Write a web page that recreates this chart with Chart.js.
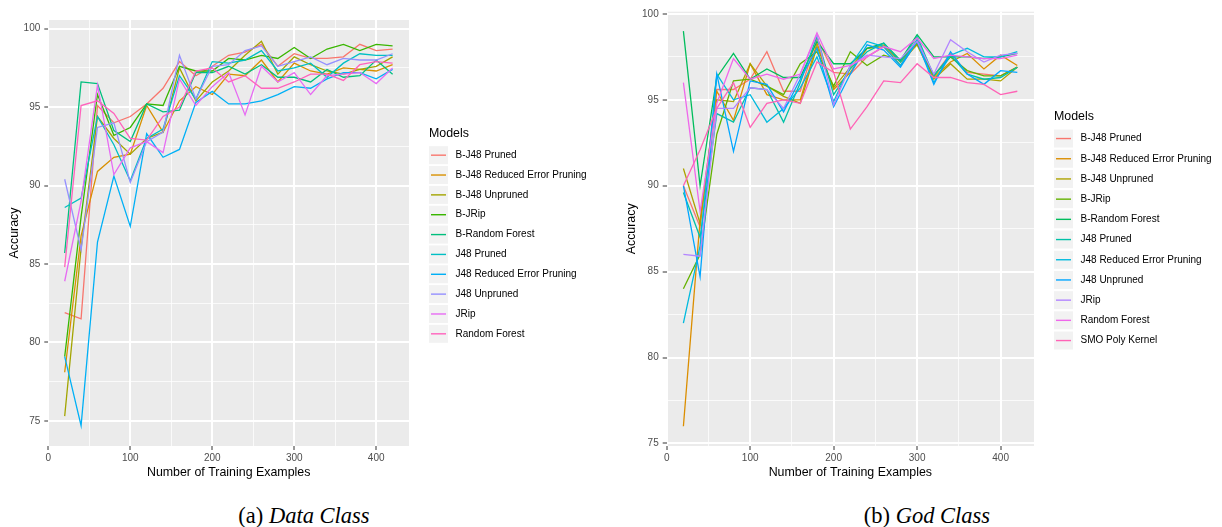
<!DOCTYPE html>
<html>
<head>
<meta charset="utf-8">
<script src="https://cdn.jsdelivr.net/npm/chart.js@4.4.1/dist/chart.umd.min.js"></script>
<style>
  html, body { margin: 0; padding: 0; background: #fff; width: 1222px; height: 527px; overflow: hidden; }
  .panel { position: absolute; top: 0; }
  canvas { display: block; }
  .caption {
    position: absolute;
    font-family: "Liberation Serif", "Times New Roman", serif;
    font-size: 22.5px;
    line-height: 22.5px;
    white-space: nowrap;
    color: #000;
    transform: translateX(-50%);
  }
</style>
</head>
<body>
<div class="panel" style="left:0"><canvas id="dataClass" width="611" height="490"></canvas></div>
<div class="panel" style="left:611px"><canvas id="godClass" width="611" height="490"></canvas></div>
<div class="caption" style="left:304px;top:504.5px">(a) <i>Data Class</i></div>
<div class="caption" style="left:927px;top:504.5px">(b) <i>God Class</i></div>

<script>
// Training set sizes shared by both experiments
const trainingExamples = [20, 40, 60, 80, 100, 120, 140, 160, 180, 200, 220, 240, 260, 280, 300, 320, 340, 360, 380, 400, 420];

// Axis tick labels
const accuracyTicks = [75, 80, 85, 90, 95, 100];
const exampleTicks = [0, 100, 200, 300, 400];

const legendTitle = "Models";
const xAxisTitle = "Number of Training Examples";
const yAxisTitle = "Accuracy";

// ---- Data Class accuracy per model ----
const dataClassModels = ["B-J48 Pruned", "B-J48 Reduced Error Pruning", "B-J48 Unpruned", "B-JRip", "B-Random Forest",
  "J48 Pruned", "J48 Reduced Error Pruning", "J48 Unpruned", "JRip", "Random Forest"];

const dcBJ48Pruned    = [81.9, 81.5, 95.1, 94.0, 94.4, 95.2, 96.2, 97.9, 97.0, 97.6, 98.3, 98.5, 99.0, 97.6, 98.4, 98.1, 98.1, 98.2, 99.0, 98.6, 98.7];
const dcBJ48REP       = [78.1, 86.8, 90.9, 91.8, 92.0, 95.1, 93.4, 95.4, 96.3, 95.8, 97.1, 97.0, 98.0, 96.6, 97.8, 97.3, 97.1, 97.5, 97.4, 97.3, 97.7];
const dcBJ48Unpruned  = [75.3, 86.0, 94.4, 93.0, 92.0, 93.0, 93.4, 97.5, 95.4, 96.6, 97.3, 98.3, 99.2, 97.1, 98.2, 97.7, 97.3, 97.1, 97.4, 97.6, 98.2];
const dcBJRip         = [79.1, 88.0, 95.8, 93.2, 93.7, 95.2, 95.1, 97.6, 97.3, 97.3, 98.1, 98.0, 98.3, 98.1, 98.8, 98.1, 98.7, 99.0, 98.6, 99.0, 98.9];
const dcBRandomForest = [85.7, 96.6, 96.5, 93.5, 92.8, 95.2, 94.7, 94.8, 97.2, 97.2, 97.6, 97.1, 97.7, 96.9, 96.9, 96.6, 97.4, 96.9, 97.0, 98.0, 97.1];
const dcJ48Pruned     = [88.6, 89.2, 94.4, 92.6, 90.3, 93.0, 93.6, 97.0, 95.5, 97.9, 97.8, 98.0, 98.6, 97.3, 97.5, 97.8, 96.9, 97.8, 98.4, 98.3, 98.3];
const dcJ48REP        = [79.1, 74.7, 86.4, 90.6, 87.4, 93.3, 91.8, 92.3, 95.3, 96.0, 95.2, 95.2, 95.4, 95.8, 96.3, 96.2, 96.8, 97.2, 97.2, 96.8, 97.4];
const dcJ48Unpruned   = [90.4, 85.9, 93.7, 94.0, 90.2, 92.8, 93.4, 98.3, 95.5, 97.6, 97.7, 98.6, 98.9, 97.6, 97.9, 98.2, 97.7, 98.1, 98.0, 98.0, 98.4];
const dcJRip          = [83.9, 89.0, 96.4, 90.7, 92.4, 92.8, 92.1, 96.8, 95.1, 96.3, 97.2, 94.5, 97.6, 96.6, 97.2, 95.8, 97.0, 97.1, 97.2, 96.5, 97.5];
const dcRandomForest  = [84.8, 95.1, 95.4, 94.6, 93.0, 92.9, 94.4, 95.0, 97.3, 97.5, 96.6, 97.0, 96.2, 96.2, 96.6, 97.1, 97.1, 96.7, 97.7, 97.9, 97.8];

// ---- God Class accuracy per model ----
const godClassModels = ["B-J48 Pruned", "B-J48 Reduced Error Pruning", "B-J48 Unpruned", "B-JRip", "B-Random Forest",
  "J48 Pruned", "J48 Reduced Error Pruning", "J48 Unpruned", "JRip", "Random Forest", "SMO Poly Kernel"];

const gcBJ48Pruned    = [90.0, 87.6, 95.6, 95.6, 96.2, 97.8, 95.5, 95.5, 98.6, 96.6, 96.5, 97.5, 98.1, 97.2, 98.5, 96.4, 97.7, 96.6, 96.5, 96.4, 96.9];
const gcBJ48REP       = [76.0, 88.0, 95.5, 93.8, 97.1, 95.3, 95.0, 95.0, 98.3, 95.6, 96.6, 98.0, 98.1, 97.0, 98.3, 96.3, 97.2, 97.7, 96.8, 97.6, 97.0];
const gcBJ48Unpruned  = [91.0, 87.8, 95.0, 94.9, 97.1, 95.8, 95.2, 94.8, 98.1, 95.7, 96.9, 98.0, 98.2, 97.2, 98.2, 96.2, 97.1, 96.2, 96.2, 96.1, 96.9];
const gcBJRip         = [84.0, 86.0, 93.0, 96.1, 96.2, 95.8, 95.3, 97.1, 97.8, 95.8, 97.8, 97.0, 97.6, 97.3, 98.3, 96.4, 97.5, 96.7, 96.4, 96.4, 96.9];
const gcBRandomForest = [99.0, 90.0, 96.3, 97.7, 96.2, 96.8, 96.3, 96.3, 98.4, 97.1, 97.1, 98.0, 98.3, 97.3, 98.8, 97.5, 97.5, 97.5, 97.4, 97.5, 97.7];
const gcJ48Pruned     = [89.6, 87.0, 94.2, 93.7, 95.7, 95.6, 93.7, 96.0, 98.7, 95.3, 96.8, 97.8, 98.3, 97.2, 98.7, 96.4, 97.6, 96.5, 96.2, 96.3, 96.9];
const gcJ48REP        = [82.0, 86.5, 96.5, 95.0, 95.3, 93.7, 94.5, 95.7, 97.5, 94.9, 97.0, 98.4, 98.1, 97.0, 98.5, 96.0, 97.6, 98.0, 97.5, 97.5, 97.8];
const gcJ48Unpruned   = [90.0, 84.7, 96.5, 92.0, 96.1, 95.9, 94.3, 96.2, 98.0, 94.6, 96.5, 98.2, 97.9, 96.9, 98.4, 95.9, 97.8, 96.5, 95.9, 96.7, 96.6];
const gcJRip          = [86.0, 85.9, 94.5, 94.5, 95.7, 95.6, 94.5, 96.5, 98.8, 94.7, 97.0, 97.6, 97.5, 97.4, 98.4, 96.5, 98.5, 97.8, 97.2, 97.6, 97.7];
const gcRandomForest  = [96.0, 88.5, 94.8, 97.4, 96.2, 96.5, 96.2, 96.5, 98.9, 96.8, 97.0, 97.5, 98.1, 97.8, 98.6, 97.4, 97.6, 97.5, 97.4, 97.4, 97.6];
const gcSMOPolyKernel = [90.0, 92.1, 94.5, 96.0, 93.4, 94.8, 95.0, 94.8, 97.2, 96.6, 93.3, 94.6, 96.1, 96.0, 97.1, 96.3, 96.3, 96.0, 95.9, 95.3, 95.5];

// Hue palettes (10 and 11 evenly spaced hues)
const hues10 = ["#F8766D", "#D89000", "#A3A500", "#39B600", "#00BF7D", "#00BFC4", "#00B0F6", "#9590FF", "#E76BF3", "#FF62BC"];
const hues11 = ["#F8766D", "#DB8E00", "#AEA200", "#64B200", "#00BD5C", "#00C1A7", "#00BADE", "#00A6FF", "#B385FF", "#EF67EB", "#FF63B6"];

const FONT = '"Liberation Sans", Arial, Helvetica, sans-serif';

// major ticks plus the midpoints between them (minor grid)
function withMinor(major) {
  const out = [];
  for (let i = 0; i < major.length; i++) {
    out.push(major[i]);
    if (i < major.length - 1) out.push((major[i] + major[i + 1]) / 2);
  }
  return out;
}

// grey panel behind the grid
const panelBackground = {
  id: 'panelBackground',
  beforeDraw(chart) {
    const a = chart.chartArea, ctx = chart.ctx;
    ctx.save();
    ctx.fillStyle = '#EBEBEB';
    ctx.fillRect(a.left, a.top, a.right - a.left, a.bottom - a.top);
    ctx.restore();
  }
};

// legend with grey key squares, vertically centred on the panel
const keyLegend = {
  id: 'keyLegend',
  afterDraw(chart, args, opts) {
    const a = chart.chartArea, ctx = chart.ctx;
    const sets = chart.data.datasets;
    const n = sets.length, step = opts.step || 20;
    const total = 6.5 + 22 + (n - 1) * step + 9.5;
    const top = (a.top + a.bottom) / 2 + (opts.shift || 0) - total / 2;
    const titleY = top + 6.5;
    const x0 = a.right + 20;
    ctx.save();
    ctx.textBaseline = 'middle';
    ctx.textAlign = 'left';
    ctx.fillStyle = '#000';
    ctx.font = '12.4px ' + FONT;
    ctx.fillText(legendTitle, x0, titleY);
    ctx.font = '10px ' + FONT;
    sets.forEach((ds, i) => {
      const y = titleY + 22 + i * step;
      ctx.fillStyle = '#F2F2F2';
      ctx.fillRect(x0, y - 9, 19, 18);
      ctx.strokeStyle = ds.borderColor;
      ctx.lineWidth = 1.4;
      ctx.beginPath();
      ctx.moveTo(x0 + 2, y);
      ctx.lineTo(x0 + 17, y);
      ctx.stroke();
      ctx.fillStyle = '#000';
      ctx.fillText(ds.label, x0 + 26.5, y);
    });
    ctx.restore();
  }
};

function buildChart(canvasId, names, colors, series, cfg) {
  const xAll = withMinor(exampleTicks);
  const yAll = withMinor(accuracyTicks);
  const datasets = series.map((vals, i) => ({
    label: names[i],
    data: trainingExamples.map((x, j) => ({ x: x, y: vals[j] })),
    borderColor: colors[i],
    backgroundColor: colors[i],
    borderWidth: 1.3,
    pointRadius: 0,
    tension: 0,
    fill: false,
    order: -i
  }));
  const gridFor = (major) => ({
    color: (c) => major.includes(c.tick.value) ? '#FFFFFF' : 'rgba(255,255,255,0.75)',
    lineWidth: (c) => major.includes(c.tick.value) ? 2 : 1,
    tickColor: (c) => major.includes(c.tick.value) ? '#333333' : 'rgba(0,0,0,0)',
    tickLength: 4,
    tickWidth: 1,
    drawOnChartArea: true
  });
  return new Chart(document.getElementById(canvasId), {
    type: 'line',
    data: { datasets },
    options: {
      responsive: false,
      animation: false,
      events: [],
      layout: { padding: { top: cfg.top, right: cfg.right, left: 0, bottom: 0 } },
      plugins: {
        legend: { display: false },
        tooltip: { enabled: false },
        keyLegend: { step: cfg.legendStep, shift: cfg.legendShift }
      },
      scales: {
        x: {
          type: 'linear',
          min: 0, max: 440,
          afterBuildTicks: (s) => { s.ticks = xAll.map(v => ({ value: v })); },
          afterFit: (s) => { s.height = 44; },
          border: { display: false },
          grid: gridFor(exampleTicks),
          ticks: {
            autoSkip: false, maxRotation: 0, padding: 2,
            color: '#4D4D4D', font: { family: FONT, size: 10 },
            callback: (v) => exampleTicks.includes(v) ? String(v) : ''
          },
          title: {
            display: true, text: xAxisTitle, color: '#000',
            font: { family: FONT, size: 12.4 }, padding: { top: 0, bottom: 10 }
          }
        },
        y: {
          type: 'linear',
          min: cfg.yMin, max: cfg.yMax,
          afterBuildTicks: (s) => { s.ticks = yAll.map(v => ({ value: v })); },
          afterFit: (s) => { s.width = cfg.axisWidth; },
          border: { display: false },
          grid: gridFor(accuracyTicks),
          ticks: {
            autoSkip: false, padding: 4,
            color: '#4D4D4D', font: { family: FONT, size: 10 },
            callback: (v) => accuracyTicks.includes(v) ? String(v) : ''
          },
          title: {
            display: true, text: yAxisTitle, color: '#000',
            font: { family: FONT, size: 12.4 }, padding: { top: cfg.yTitlePad, bottom: 0 }
          }
        }
      }
    },
    plugins: [panelBackground, keyLegend]
  });
}

buildChart('dataClass', dataClassModels, hues10,
  [dcBJ48Pruned, dcBJ48REP, dcBJ48Unpruned, dcBJRip, dcBRandomForest, dcJ48Pruned, dcJ48REP, dcJ48Unpruned, dcJRip, dcRandomForest],
  { top: 20, right: 202, yMin: 73.4, yMax: 100.55, axisWidth: 48.3, yTitlePad: 7.6, legendStep: 19.85, legendShift: 2 });

buildChart('godClass', godClassModels, hues11,
  [gcBJ48Pruned, gcBJ48REP, gcBJ48Unpruned, gcBJRip, gcBRandomForest, gcJ48Pruned, gcJ48REP, gcJ48Unpruned, gcJRip, gcRandomForest, gcSMOPolyKernel],
  { top: 11.7, right: 188, yMin: 74.85, yMax: 100.13, axisWidth: 55.7, yTitlePad: 13.3, legendStep: 20.2, legendShift: 1.2 });
</script>
</body>
</html>
